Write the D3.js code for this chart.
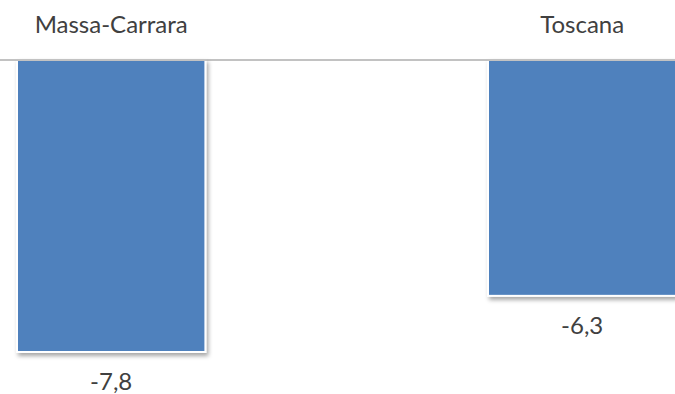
<!DOCTYPE html>
<html><head><meta charset="utf-8">
<script src="https://cdn.jsdelivr.net/npm/d3@7"></script>
<style>
html,body{margin:0;padding:0;background:#fff;}
svg{display:block;}
</style></head>
<body>
<script>
const categories = ["Massa-Carrara", "Toscana"];
const values = [-7.8, -6.3];
const valueLabels = ["-7,8", "-6,3"];

const W = 675, H = 394;
const svg = d3.select("body").append("svg").attr("width", W).attr("height", H);

const defs = svg.append("defs");
const f = defs.append("filter").attr("id", "sh").attr("x", "-10%").attr("y", "-10%").attr("width", "130%").attr("height", "130%");
f.append("feDropShadow").attr("dx", 2).attr("dy", 3).attr("stdDeviation", 2.2)
  .attr("flood-color", "#000").attr("flood-opacity", 0.35);

const x = d3.scaleBand().domain(categories).range([17, 676.4]).paddingInner(0.6).paddingOuter(0);
const y = d3.scaleLinear().domain([0, -7.8]).range([60, 352]);

svg.append("g").selectAll("rect").data(values).join("rect")
  .attr("x", (d, i) => x(categories[i]))
  .attr("y", y(0))
  .attr("width", x.bandwidth())
  .attr("height", d => y(d) - y(0))
  .attr("fill", "#4F81BD")
  .attr("stroke", "#fff").attr("stroke-width", 2)
  .attr("filter", "url(#sh)");

svg.append("line").attr("x1", 0).attr("x2", W).attr("y1", y(0)).attr("y2", y(0))
  .attr("stroke", "#868686").attr("stroke-width", 1.2);

const font = "Lato, 'Open Sans', sans-serif";
svg.append("g").selectAll("text").data(categories).join("text")
  .attr("x", d => x(d) + x.bandwidth() / 2)
  .attr("y", 33)
  .attr("text-anchor", "middle")
  .attr("font-family", font).attr("font-size", 24)
  .attr("fill", "#404040")
  .text(d => d);

svg.append("g").selectAll("text").data(values).join("text")
  .attr("x", (d, i) => x(categories[i]) + x.bandwidth() / 2)
  .attr("y", d => y(d) + 38)
  .attr("text-anchor", "middle")
  .attr("font-family", font).attr("font-size", 24)
  .attr("fill", "#404040")
  .text((d, i) => valueLabels[i]);
</script>
</body></html>
